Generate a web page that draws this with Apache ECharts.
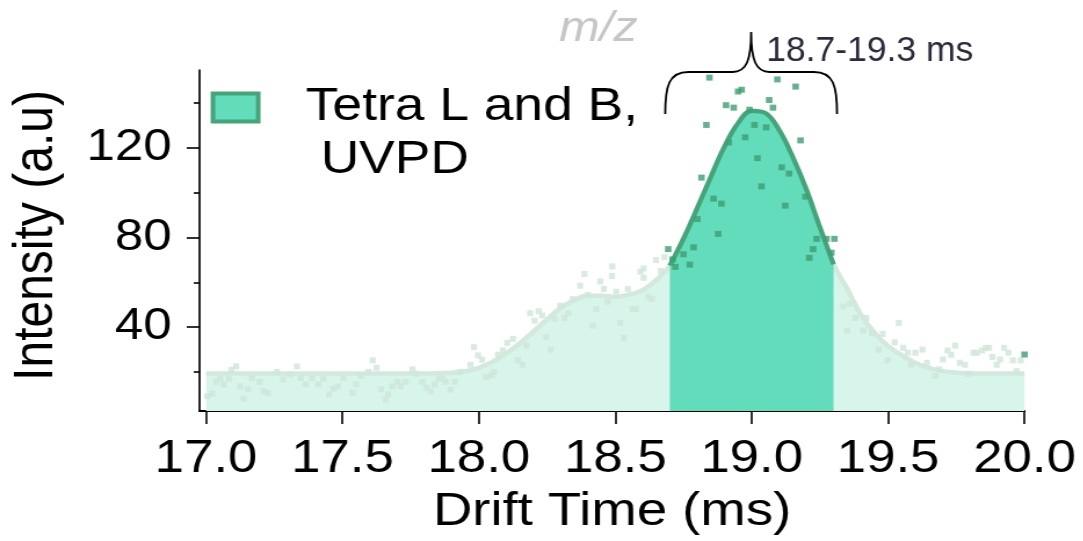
<!DOCTYPE html>
<html>
<head>
<meta charset="utf-8">
<script src="https://cdn.jsdelivr.net/npm/echarts@6.0.0/dist/echarts.min.js"></script>
<style>
  html, body { margin: 0; padding: 0; background: #fff; overflow: hidden; }
  /* the figure is drawn on a narrower canvas and widened horizontally */
  #chart { width: 934px; height: 541px; transform: scaleX(1.16); transform-origin: 0 0; }
</style>
</head>
<body>
<div id="chart"></div>
<script>
// Smoothed arrival-time profile (drift time in ms, intensity in a.u.)
const driftTime = [
  17.00, 17.05, 17.10, 17.15, 17.20, 17.25, 17.30, 17.35, 17.40, 17.45,
  17.50, 17.55, 17.60, 17.65, 17.70, 17.75, 17.80, 17.85, 17.90, 17.95,
  18.00, 18.05, 18.10, 18.15, 18.20, 18.25, 18.30, 18.35, 18.40, 18.45,
  18.50, 18.55, 18.60, 18.65, 18.70, 18.75, 18.80, 18.85, 18.90, 18.95,
  19.00, 19.05, 19.10, 19.15, 19.20, 19.25, 19.30, 19.35, 19.40, 19.45,
  19.50, 19.55, 19.60, 19.65, 19.70, 19.75, 19.80, 19.85, 19.90, 19.95, 20.00
];
const intensity = [
  19.3, 19.3, 19.3, 19.3, 19.3, 19.3, 19.3, 19.3, 19.3, 19.3,
  19.3, 19.3, 19.3, 19.3, 19.3, 19.3, 19.3, 19.4, 19.7, 20.3,
  21.8, 24.5, 28.2, 32.8, 38.0, 43.5, 48.5, 52.0, 54.0, 54.0,
  53.5, 54.5, 56.5, 61.0, 67.5, 79.5, 93.0, 107.0, 120.5, 131.0,
  136.5, 135.5, 128.0, 116.0, 101.5, 84.5, 68.0, 57.0, 45.5, 37.5,
  31.5, 27.5, 24.0, 21.8, 20.4, 19.7, 19.4, 19.3, 19.3, 19.3, 19.3
];

// Selected drift-time window
const winStart = 18.7;
const winEnd = 19.3;
const rangeLabel = winStart.toFixed(1) + '-' + winEnd.toFixed(1) + ' ms';

// Raw scans outside the window [drift time, intensity]
const backgroundScans = [
  [17.004, 9.2], [17.022, 10.4], [17.037, 15.6], [17.052, 17.0], [17.065, 14.4],
  [17.083, 17.0], [17.093, 21.0], [17.110, 22.5], [17.125, 13.6], [17.138, 8.1],
  [17.154, 12.3], [17.168, 17.3], [17.196, 15.6], [17.211, 11.4], [17.226, 10.7],
  [17.260, 20.0], [17.282, 16.7], [17.308, 18.9], [17.333, 22.5], [17.347, 17.3],
  [17.365, 14.5], [17.388, 17.3], [17.412, 14.5], [17.430, 17.0], [17.451, 9.9],
  [17.467, 12.6], [17.482, 13.6], [17.503, 17.3], [17.537, 10.7], [17.550, 14.5],
  [17.567, 18.2], [17.595, 20.0], [17.611, 25.2], [17.625, 21.9], [17.641, 12.3],
  [17.658, 7.8], [17.668, 10.0], [17.684, 13.6], [17.702, 15.6], [17.713, 13.6],
  [17.731, 15.6], [17.757, 21.2], [17.771, 19.2], [17.793, 15.6], [17.808, 12.9],
  [17.823, 11.4], [17.837, 14.4], [17.853, 17.0], [17.869, 17.0], [17.879, 15.6],
  [17.896, 12.1], [17.912, 15.6], [17.930, 20.0], [17.969, 23.2], [17.982, 31.1],
  [17.997, 27.4], [18.012, 25.5], [18.027, 17.8], [18.046, 18.5], [18.056, 20.0],
  [18.070, 27.7], [18.088, 29.6], [18.104, 33.0], [18.125, 34.8], [18.174, 31.8],
  [18.143, 25.2], [18.159, 23.2], [18.188, 46.2], [18.204, 42.9], [18.219, 47.1],
  [18.232, 45.2], [18.247, 35.6], [18.263, 30.0], [18.277, 43.7], [18.298, 49.6],
  [18.314, 44.1], [18.328, 46.2], [18.344, 52.6], [18.371, 58.5], [18.387, 63.7],
  [18.399, 54.4], [18.418, 40.7], [18.430, 48.1], [18.445, 60.4], [18.458, 57.0],
  [18.472, 51.4], [18.489, 67.1], [18.503, 55.8], [18.518, 41.9], [18.531, 35.2],
  [18.546, 57.0], [18.564, 48.1], [18.576, 48.1], [18.592, 64.7], [18.604, 66.2],
  [18.621, 53.6], [18.634, 52.6], [18.649, 69.9], [18.666, 65.1], [18.680, 71.2],
  [18.488, 62.8], [18.604, 62.0],
  [19.335, 49.2], [19.359, 50.4], [19.380, 44.1], [19.420, 44.1], [19.350, 38.5],
  [19.408, 38.5], [19.441, 37.3], [19.480, 37.0], [19.539, 41.9], [19.465, 30.0],
  [19.498, 25.2], [19.524, 33.2], [19.555, 30.8], [19.572, 28.6], [19.600, 28.6],
  [19.626, 30.0], [19.642, 24.1], [19.585, 23.2], [19.673, 18.2], [19.688, 21.2],
  [19.701, 25.6], [19.718, 29.6], [19.731, 27.7], [19.746, 31.8], [19.763, 24.1],
  [19.782, 23.2], [19.795, 19.2], [19.813, 28.6], [19.825, 28.6], [19.844, 29.6],
  [19.858, 30.7], [19.870, 30.8], [19.882, 26.7], [19.898, 23.2], [19.910, 25.6],
  [19.925, 30.8], [19.941, 28.6], [19.957, 25.2], [19.971, 20.4], [19.986, 25.2]
];

// Raw scans inside the window [drift time, intensity]
const windowScans = [
  [18.845, 151.3], [19.094, 150.5], [19.161, 147.3], [18.950, 145.1], [18.963, 145.9],
  [18.906, 139.0], [18.934, 137.9], [18.992, 137.0], [19.064, 141.3], [19.078, 137.9],
  [18.834, 130.2], [19.010, 130.2], [19.053, 129.1], [18.976, 124.7], [18.916, 122.4],
  [19.179, 123.3], [19.021, 115.4], [18.816, 106.7], [19.110, 111.3], [19.137, 108.5],
  [19.036, 102.8], [18.860, 97.3], [18.889, 95.1], [19.123, 94.2], [19.197, 98.2],
  [18.801, 88.2], [18.877, 81.6], [19.238, 79.4], [19.274, 79.4], [19.303, 79.4],
  [19.225, 74.8], [19.292, 73.2], [19.211, 70.9], [18.694, 74.8], [18.787, 75.6],
  [18.750, 72.5], [18.710, 70.2], [18.773, 67.9], [18.720, 66.9], [20.000, 27.8]
];

// Axis ticks and labels
const xTickValues = [17.0, 17.5, 18.0, 18.5, 19.0, 19.5, 20.0];
const yMajorTicks = [40, 80, 120];
const yMinorTicks = [20, 60, 100, 140];

const seriesName = 'Tetra L and B,\n UVPD';
const STRETCH = 1.16;
const FONT = '"Liberation Sans", Arial, Helvetica, sans-serif';

const profile = driftTime.map((t, i) => [t, intensity[i]]);
const windowProfile = profile.filter(p => p[0] >= winStart - 1e-9 && p[0] <= winEnd + 1e-9);

const chart = echarts.init(document.getElementById('chart'), null, { renderer: 'canvas' });

chart.setOption({
  animation: false,
  backgroundColor: '#ffffff',
  title: {
    text: 'm/z',
    left: 482,
    top: 8,
    padding: 0,
    textStyle: { fontSize: 42, fontStyle: 'italic', fontWeight: 'normal', color: '#c6c6c6', fontFamily: FONT }
  },
  legend: {
    data: [{
      name: seriesName,
      icon: 'rect',
      itemStyle: { color: '#63dcbc', borderColor: '#46a47a', borderWidth: 4 }
    }],
    // a blank leading line keeps the first text line level with the swatch
    formatter: name => '\n' + name,
    left: 181.6,
    top: 28,
    padding: 0,
    itemWidth: 39,
    itemHeight: 28,
    selectedMode: false,
    textStyle: {
      fontSize: 46, fontFamily: FONT, color: '#000000', lineHeight: 53,
      padding: [0, 0, 0, 36]
    }
  },
  grid: { left: 170.4, right: 50.8, top: 70, bottom: 128.3, containLabel: false },
  xAxis: {
    type: 'value',
    min: 16.976,
    max: 20,
    name: 'Drift Time (ms)',
    nameLocation: 'middle',
    nameGap: 78,
    nameTextStyle: { fontSize: 47, fontFamily: FONT, color: '#000000' },
    splitLine: { show: false },
    axisLine: { show: true, onZero: false, lineStyle: { color: '#000000', width: 2 } },
    axisTick: { show: true, customValues: xTickValues, length: 13, lineStyle: { color: '#000000', width: 1.6 } },
    axisLabel: {
      customValues: xTickValues,
      formatter: v => Number(v).toFixed(1),
      margin: 25,
      fontSize: 45.5,
      fontFamily: FONT,
      color: '#000000'
    }
  },
  yAxis: [
    {
      type: 'value',
      min: 2.6,
      max: 154.7,
      name: 'Intensity (a.u)',
      nameLocation: 'middle',
      nameGap: 116,
      nameRotate: 90,
      nameTextStyle: { fontSize: 48, fontFamily: FONT, color: '#000000', padding: [0, 0, 0, 10] },
      splitLine: { show: false },
      axisLine: { show: true, onZero: false, lineStyle: { color: '#000000', width: 1.7 } },
      axisTick: { show: true, customValues: yMajorTicks, length: 11, lineStyle: { color: '#000000', width: 1.6 } },
      axisLabel: { customValues: yMajorTicks, margin: 24, fontSize: 44, fontFamily: FONT, color: '#000000' }
    },
    {
      type: 'value',
      position: 'left',
      min: 2.6,
      max: 154.7,
      splitLine: { show: false },
      axisLine: { show: false },
      axisTick: { show: true, customValues: yMinorTicks, length: 5, lineStyle: { color: '#000000', width: 1.6 } },
      axisLabel: { show: false }
    }
  ],
  series: [
    {
      name: 'profile',
      type: 'line',
      data: profile,
      smooth: 0.4,
      showSymbol: false,
      silent: true,
      z: 1,
      lineStyle: { color: '#d3e9de', width: 4.5 },
      areaStyle: { color: '#d8f5ec', opacity: 1, origin: 'start' }
    },
    {
      name: 'background scans',
      type: 'scatter',
      data: backgroundScans,
      symbol: 'rect',
      symbolSize: [5.2, 6],
      silent: true,
      z: 2,
      itemStyle: { color: '#d0e6da' }
    },
    {
      name: seriesName,
      type: 'line',
      data: windowProfile,
      smooth: 0.4,
      showSymbol: false,
      silent: true,
      z: 3,
      lineStyle: { color: '#46a47a', width: 4.2 },
      itemStyle: { color: '#63dcbc' },
      areaStyle: { color: '#63dcbc', opacity: 1, origin: 'start' }
    },
    {
      name: 'window scans',
      type: 'scatter',
      data: windowScans,
      symbol: 'rect',
      symbolSize: [5.6, 6],
      silent: true,
      z: 4,
      itemStyle: { color: '#3f9d72' }
    },
    {
      // curly brace spanning the selected window, with its range label
      name: 'window brace',
      type: 'custom',
      silent: true,
      z: 6,
      clip: false,
      data: [[winStart, winEnd]],
      renderItem: function (params, api) {
        const cs = params.coordSys;
        const L = api.coord([api.value(0), 100])[0] - 4;
        const R = api.coord([api.value(1), 100])[0] + 3;
        const M = (L + R) / 2;
        const yTop = cs.y + 2;
        const yEnd = yTop + 42;
        const yTip = yTop - 40;
        const cw = 20;
        const tw = 16;
        const d = [
          'M', L, yEnd,
          'C', L, yTop + 14, L + 3, yTop, L + cw, yTop,
          'L', M - tw, yTop,
          'C', M - 4, yTop, M, yTop - 12, M, yTip,
          'C', M, yTop - 12, M + 4, yTop, M + tw, yTop,
          'L', R - cw, yTop,
          'C', R - 3, yTop, R, yTop + 14, R, yEnd
        ].join(' ');
        return {
          type: 'group',
          children: [
            {
              type: 'path',
              shape: { pathData: d },
              style: { fill: 'none', stroke: '#000000', lineWidth: 1.8 }
            },
            {
              type: 'text',
              x: M + 13,
              y: yTop - 21,
              scaleX: 1 / STRETCH,
              style: {
                text: rangeLabel,
                fontSize: 35.5,
                fontFamily: FONT,
                fill: '#2b2b3b',
                align: 'left',
                verticalAlign: 'middle'
              }
            }
          ]
        };
      }
    }
  ]
});
</script>
</body>
</html>
